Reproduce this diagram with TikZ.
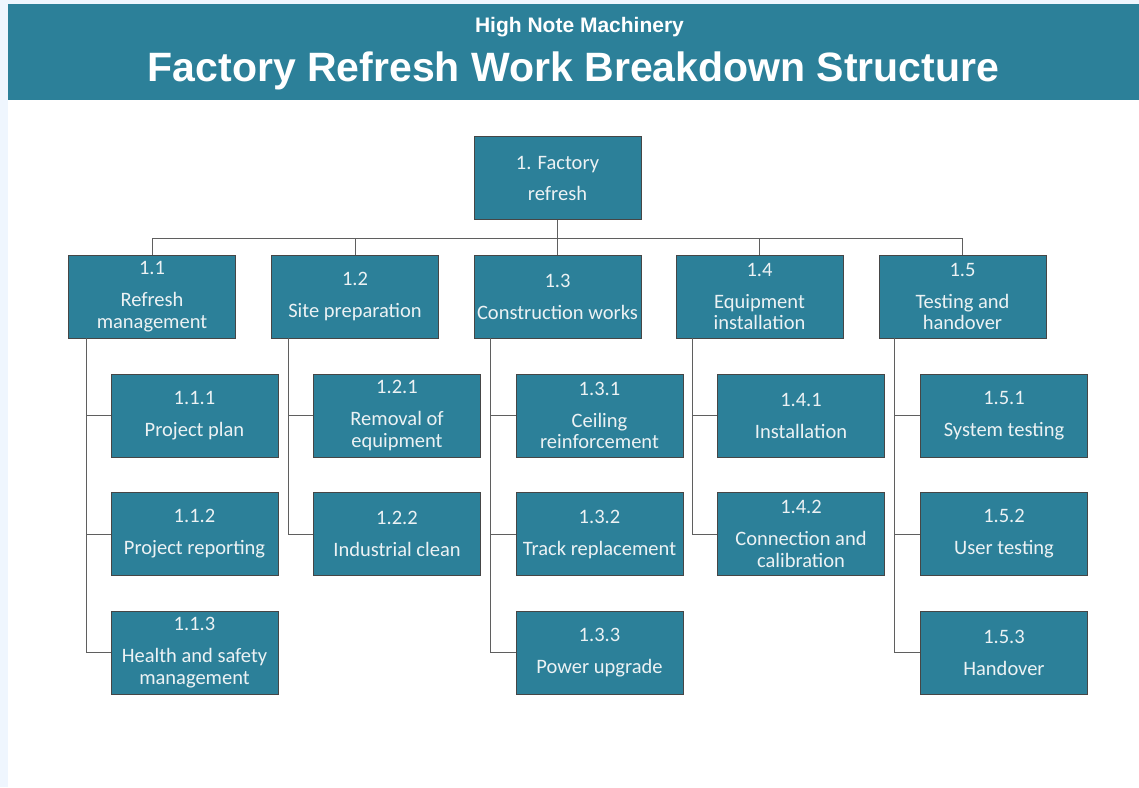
\documentclass[tikz,border=0pt]{standalone}
\usepackage{fontspec}
\setmainfont{Carlito}
\newfontfamily\headfont{Liberation Sans}
\usepackage{xcolor}
\usepackage{tikz}
\usetikzlibrary{calc}

\begin{document}
\begin{tikzpicture}[x=1pt, y=-1pt]
    % --- GLOBAL DEFINITIONS ---
    \def\bw{167} % box width
    \def\bh{83}  % box height
    \def\gap{10.5pt} % gap after the number line

    % Custom colors
    \definecolor{pagetint}{RGB}{239, 246, 254}
    \definecolor{wbsteal}{RGB}{44, 128, 153}
    \definecolor{wbsline}{RGB}{70, 70, 70}
    \definecolor{wbstext}{RGB}{236, 242, 244}
    \definecolor{conngray}{RGB}{95, 95, 95}

    \tikzset{
        wbsbox/.style={draw=wbsline, fill=wbsteal, text=wbstext, line width=0.9pt,
            minimum width=\bw, minimum height=\bh, inner sep=0pt, align=center,
            font=\fontsize{20.5}{21.5}\selectfont},
        conn/.style={draw=conngray, line width=0.9pt}
    }

    % Page and header band
    \useasboundingbox (0,0) rectangle (1139,787);
    \fill[pagetint] (0,0) rectangle (1139,787);
    \fill[white] (8,100) rectangle (1139,787);
    \fill[wbsteal] (8,4) rectangle (1139,100);
    \node[text=white, font=\headfont\bfseries\fontsize{21}{24}\selectfont] (company) at (579.5,27) {High Note Machinery};
    \node[text=white, font=\headfont\bfseries\fontsize{41}{46}\selectfont] (title) at (573.5,71) {Factory Refresh Work Breakdown Structure};

    % LEVEL 0
    \node[wbsbox] (root) at (557.5,178) {1. Factory\\[9.5pt]refresh};

    % LEVEL 1
    \node[wbsbox] (n11) at (152,296.5) {1.1\\[\gap]Refresh\\management};
    \node[wbsbox] (n12) at (355,296.5) {1.2\\[\gap]Site preparation};
    \node[wbsbox] (n13) at (557.5,296.5) {1.3\\[\gap]Construction works};
    \node[wbsbox] (n14) at (759.5,296.5) {1.4\\[\gap]Equipment\\installation};
    \node[wbsbox] (n15) at (962.5,296.5) {1.5\\[\gap]Testing and\\handover};

    % LEVEL 2 -- refresh management
    \node[wbsbox] (n111) at (194.5,415.5) {1.1.1\\[\gap]Project plan};
    \node[wbsbox] (n112) at (194.5,534) {1.1.2\\[\gap]Project reporting};
    \node[wbsbox] (n113) at (194.5,652.5) {1.1.3\\[\gap]Health and safety\\management};
    % site preparation
    \node[wbsbox] (n121) at (397,415.5) {1.2.1\\[\gap]Removal of\\equipment};
    \node[wbsbox] (n122) at (397,534) {1.2.2\\[\gap]Industrial clean};
    % construction works
    \node[wbsbox] (n131) at (599.5,415.5) {1.3.1\\[\gap]Ceiling\\reinforcement};
    \node[wbsbox] (n132) at (599.5,534) {1.3.2\\[\gap]Track replacement};
    \node[wbsbox] (n133) at (599.5,652.5) {1.3.3\\[\gap]Power upgrade};
    % equipment installation
    \node[wbsbox] (n141) at (801,415.5) {1.4.1\\[\gap]Installation};
    \node[wbsbox] (n142) at (801,534) {1.4.2\\[\gap]Connection and\\calibration};
    % testing and handover
    \node[wbsbox] (n151) at (1004,415.5) {1.5.1\\[\gap]System testing};
    \node[wbsbox] (n152) at (1004,534) {1.5.2\\[\gap]User testing};
    \node[wbsbox] (n153) at (1004,652.5) {1.5.3\\[\gap]Handover};

    % CONNECTORS
    \coordinate (bus) at (0,238);
    \draw[conn] (root.south) -- (root.south |- bus);
    \draw[conn] (n11.north) -- (n11.north |- bus) -- (n15.north |- bus) -- (n15.north);
    \draw[conn] (n12.north) -- (n12.north |- bus);
    \draw[conn] (n13.north) -- (n13.north |- bus);
    \draw[conn] (n14.north) -- (n14.north |- bus);

    \draw[conn] ([xshift=18]n11.south west) |- (n113.west);
    \draw[conn] ([xshift=18]n11.south west |- n111.west) -- (n111.west);
    \draw[conn] ([xshift=18]n11.south west |- n112.west) -- (n112.west);

    \draw[conn] ([xshift=17]n12.south west) |- (n122.west);
    \draw[conn] ([xshift=17]n12.south west |- n121.west) -- (n121.west);

    \draw[conn] ([xshift=17]n13.south west) |- (n133.west);
    \draw[conn] ([xshift=17]n13.south west |- n131.west) -- (n131.west);
    \draw[conn] ([xshift=17]n13.south west |- n132.west) -- (n132.west);

    \draw[conn] ([xshift=17]n14.south west) |- (n142.west);
    \draw[conn] ([xshift=17]n14.south west |- n141.west) -- (n141.west);

    \draw[conn] ([xshift=16]n15.south west) |- (n153.west);
    \draw[conn] ([xshift=16]n15.south west |- n151.west) -- (n151.west);
    \draw[conn] ([xshift=16]n15.south west |- n152.west) -- (n152.west);
\end{tikzpicture}
\end{document}
